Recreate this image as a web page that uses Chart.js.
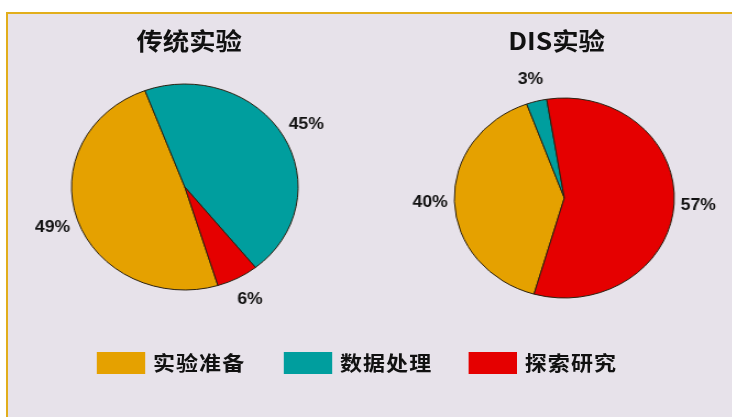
<!DOCTYPE html>
<html>
<head>
<meta charset="utf-8">
<script src="https://cdn.jsdelivr.net/npm/chart.js@4/dist/chart.umd.min.js"></script>
<style>
  html, body { margin: 0; padding: 0; background: #fff; overflow: hidden; }
  #panel {
    position: fixed; left: 6px; top: 12px; right: -10px; bottom: -10px;
    background: #e7e2ea;
    border-top: 2px solid #e2ae1c;
    border-left: 2px solid #e2ae1c;
  }
  /* the whole picture is a bit wider than tall, so design unstretched and scale */
  #stage {
    position: absolute; left: 0; top: 0;
    width: 660px; height: 417px;
    transform: scaleX(1.1); transform-origin: 0 0;
  }
  .title {
    position: absolute; top: 24px; width: 200px; margin-left: -100px;
    text-align: center;
    font: bold 24px "Noto Sans CJK SC", sans-serif; color: #111;
    line-height: 32px;
  }
  canvas { position: absolute; }
  .box { position: absolute; top: 352px; width: 44px; height: 22px; }
  .lab {
    position: absolute; top: 348px; line-height: 30px;
    font: bold 20px "Noto Sans CJK SC", sans-serif; color: #111;
    letter-spacing: 1px;
  }
</style>
</head>
<body>
<div id="panel"></div>
<div id="stage">
  <div class="title" style="left:172px">传统实验</div>
  <div class="title" style="left:506px">DIS实验</div>
  <canvas id="pieA" width="300" height="300" style="left:18px; top:37px"></canvas>
  <canvas id="pieB" width="300" height="300" style="left:363px; top:48px"></canvas>
  <div id="legend"></div>
</div>
<script>
// categories and values
const categories = ['实验准备', '数据处理', '探索研究'];
const colors = ['#e5a100', '#009e9e', '#e50000'];
const traditionalValues = [49, 45, 6];
const disValues = [40, 3, 57];

// draws the "xx%" text outside each slice
const outsideLabels = {
  id: 'outsideLabels',
  afterDatasetsDraw(chart, args, opts) {
    const ctx = chart.ctx;
    const data = chart.data.datasets[0].data;
    ctx.save();
    ctx.font = 'bold 16px "Liberation Sans", Arial, sans-serif';
    ctx.fillStyle = '#111';
    ctx.textAlign = 'center';
    ctx.textBaseline = 'middle';
    chart.getDatasetMeta(0).data.forEach((arc, i) => {
      const p = arc.getProps(['x', 'y', 'startAngle', 'endAngle', 'outerRadius'], true);
      const mid = (p.startAngle + p.endAngle) / 2;
      const r = p.outerRadius + opts.offset;
      ctx.fillText(data[i] + '%', p.x + Math.cos(mid) * r, p.y + Math.sin(mid) * r);
    });
    ctx.restore();
  }
};

function makePie(id, values, radius, rotation, offset) {
  return new Chart(document.getElementById(id), {
    type: 'pie',
    data: {
      labels: categories,
      datasets: [{
        data: values,
        backgroundColor: colors,
        borderColor: '#2a2010',
        borderWidth: 1
      }]
    },
    options: {
      responsive: false,
      animation: false,
      radius: radius,
      rotation: rotation,
      layout: { padding: 0 },
      plugins: {
        legend: { display: false },
        tooltip: { enabled: false },
        outsideLabels: { offset: offset }
      }
    },
    plugins: [outsideLabels]
  });
}

makePie('pieA', traditionalValues, 103, 163, 24);
makePie('pieB', disValues, 100, 196, 22);

// legend along the bottom
const legend = document.getElementById('legend');
const boxLeft = [88, 258, 426];
categories.forEach((name, i) => {
  const box = document.createElement('div');
  box.className = 'box';
  box.style.left = boxLeft[i] + 'px';
  box.style.background = colors[i];
  legend.appendChild(box);
  const lab = document.createElement('div');
  lab.className = 'lab';
  lab.style.left = (boxLeft[i] + 51) + 'px';
  lab.textContent = name;
  legend.appendChild(lab);
});
</script>
</body>
</html>
